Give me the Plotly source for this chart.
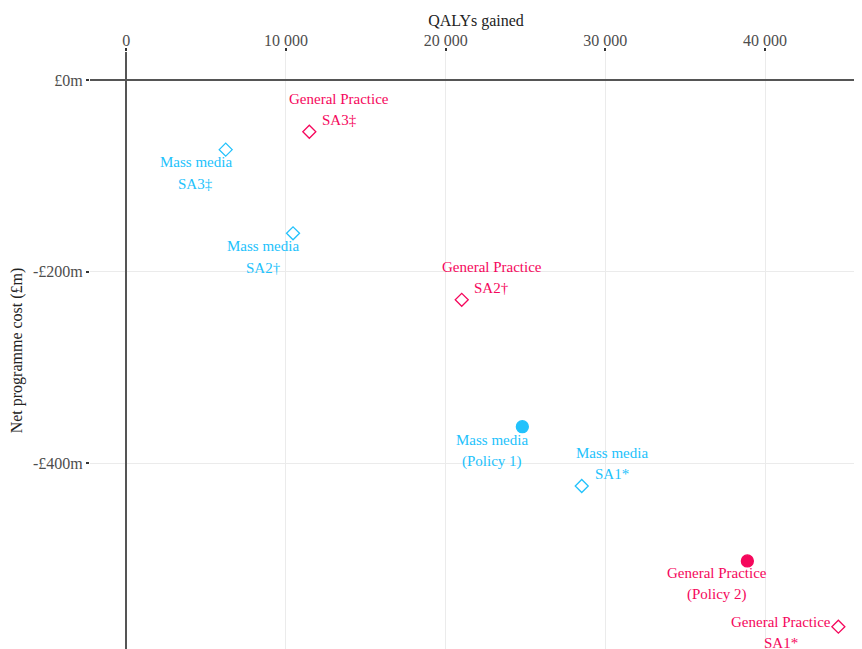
import plotly.graph_objects as go

# ---- data ----
programme = ["Mass media", "General Practice", "Mass media", "General Practice",
             "Mass media", "Mass media", "General Practice", "General Practice"]
scenario = ["SA3‡", "SA3‡", "SA2†", "SA2†", "(Policy 1)", "SA1*", "(Policy 2)", "SA1*"]
qalys = [6230, 11465, 10445, 21008, 24803, 28522, 38892, 44590]
net_cost = [-72.7, -54.0, -160.0, -229.4, -361.8, -423.7, -501.9, -570.5]
is_policy = [False, False, False, False, True, False, True, False]

x_tickvals = [0, 10000, 20000, 30000, 40000]
x_ticktext = ["0", "10 000", "20 000", "30 000", "40 000"]
y_tickvals = [0, -200, -400]
y_ticktext = ["£0m", "-£200m", "-£400m"]

# ---- style ----
colors = {"Mass media": "#22C2FC", "General Practice": "#F5075C"}
# label offsets in pixels (dx, dy of first line, dy of second line), screen y down
label_offsets = [(-30, 12.5, 34.5), (30, -33, -12), (-30, 12.5, 34.5), (30, -33, -11.5),
                 (-30, 13, 35), (30, -33, -12), (-30, 12.5, 34), (-57.5, -5, 16.5)]
FONT = "Liberation Serif, Times New Roman, serif"

fig = go.Figure()
for prog in ["Mass media", "General Practice"]:
    for pol in [False, True]:
        idx = [i for i in range(len(qalys)) if programme[i] == prog and is_policy[i] == pol]
        if not idx:
            continue
        fig.add_trace(go.Scatter(
            x=[qalys[i] for i in idx], y=[net_cost[i] for i in idx],
            mode="markers", showlegend=False, cliponaxis=False,
            marker=dict(symbol="circle" if pol else "diamond-open",
                        size=12 if pol else 10, color=colors[prog],
                        line=dict(width=1.3, color=colors[prog])),
        ))

annotations = []
for i in range(len(qalys)):
    dx, dy1, dy2 = label_offsets[i]
    for txt, dy in [(programme[i], dy1), (scenario[i], dy2)]:
        annotations.append(dict(
            x=qalys[i], y=net_cost[i], xref="x", yref="y", text=txt,
            showarrow=False, xshift=dx, yshift=-dy, xanchor="center", yanchor="middle",
            font=dict(family=FONT, size=15, color=colors[programme[i]]),
        ))

# page body has an 8px default margin, so the figure is 8px smaller
fig.update_layout(
    width=854, height=641,
    margin=dict(l=82, r=0, t=44, b=0),
    plot_bgcolor="white", paper_bgcolor="white",
    font=dict(family=FONT, size=16, color="#4D4D4D"),
    annotations=annotations,
    xaxis=dict(
        side="top", range=[-2267, 46070], automargin=False,
        tickvals=x_tickvals, ticktext=x_ticktext,
        ticks="outside", ticklen=3, tickwidth=1.5, tickcolor="#333333",
        ticklabelstandoff=-4,
        tickfont=dict(size=16, color="#4D4D4D"),
        showgrid=True, gridcolor="#EBEBEB", gridwidth=1,
        zeroline=True, zerolinecolor="#555555", zerolinewidth=1.6,
        showline=False,
        title=dict(text="QALYs gained", font=dict(size=16, color="#222222"), standoff=0),
    ),
    yaxis=dict(
        range=[-593.8, 29.2], automargin=False,
        tickvals=y_tickvals, ticktext=y_ticktext,
        ticks="outside", ticklen=3, tickwidth=1.5, tickcolor="#333333",
        tickfont=dict(size=16, color="#4D4D4D"),
        showgrid=True, gridcolor="#EBEBEB", gridwidth=1,
        zeroline=True, zerolinecolor="#555555", zerolinewidth=1.6,
        showline=False,
        title=dict(text="Net programme cost (£m)", font=dict(size=16, color="#222222"), standoff=6),
    ),
)

fig.write_html("out.html")
